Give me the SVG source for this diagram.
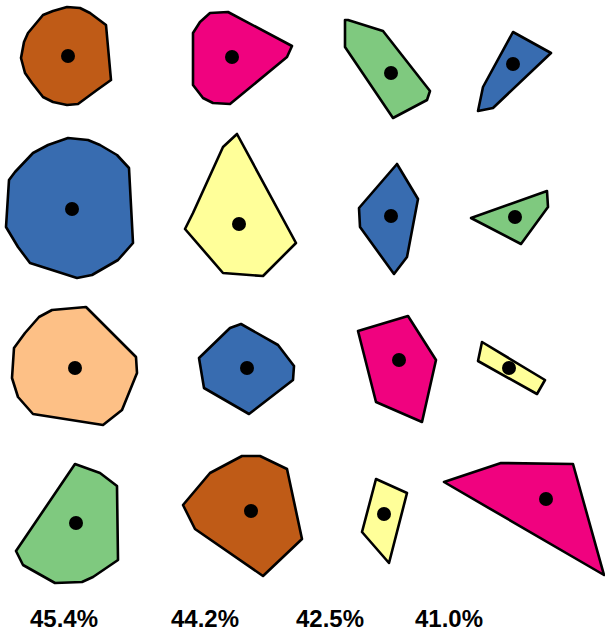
<svg xmlns="http://www.w3.org/2000/svg" width="605" height="633" viewBox="0 0 605 633">
<style>
.p{stroke:#000;stroke-width:2.6;stroke-linejoin:round}
.d{fill:#000}
.br{fill:#bf5b17}.pk{fill:#f0027f}.gr{fill:#7fc97f}.bl{fill:#386cb0}.ye{fill:#ffff99}.or{fill:#fdc086}
.t{font-family:"Liberation Sans",Arial,sans-serif;font-weight:bold;font-size:23px;text-anchor:middle;fill:#000}
</style>
<rect width="605" height="633" fill="#fff"/>
<g id="r1c1"><polygon class="p br" points="67,7 80,8 90,13 106,25 111,80 97,90 78,104 67,105 53,102 43,97 32,83 25,73 21,58 24,42 28,33 43,15 53,11"/><circle class="d" cx="68" cy="56" r="7"/></g>
<g id="r1c2"><polygon class="p pk" points="210,13 228,12 292,46 287,57 230,104 213,103 203,98 193,85 193,33 200,22"/><circle class="d" cx="232" cy="57" r="7"/></g>
<g id="r1c3"><polygon class="p gr" points="345,20 348,20 383,31 430,91 427,100 393,118 345,47"/><circle class="d" cx="391" cy="73" r="7"/></g>
<g id="r1c4"><polygon class="p bl" points="513,32 551,53 493,108 478,111 483,87"/><circle class="d" cx="513" cy="64" r="7"/></g>
<g id="r2c1"><polygon class="p bl" points="68,138 88,140 100,145 117,155 129,168 133,243 118,260 92,275 77,278 52,270 30,263 18,247 6,227 9,180 15,172 33,153 48,145"/><circle class="d" cx="72" cy="209" r="7"/></g>
<g id="r2c2"><polygon class="p ye" points="237,134 296,243 263,276 223,273 185,229 193,213 223,147"/><circle class="d" cx="239" cy="224" r="7"/></g>
<g id="r2c3"><polygon class="p bl" points="397,164 418,199 407,257 394,274 360,227 359,208"/><circle class="d" cx="391" cy="216" r="7"/></g>
<g id="r2c4"><polygon class="p gr" points="547,191 548,207 521,244 471,218"/><circle class="d" cx="515" cy="217" r="7"/></g>
<g id="r3c1"><polygon class="p or" points="52,310 86,307 136,357 137,373 122,410 103,425 33,414 18,397 12,378 14,348 25,333 39,317"/><circle class="d" cx="75" cy="368" r="7"/></g>
<g id="r3c2"><polygon class="p bl" points="230,328 241,324 278,345 294,366 293,380 249,414 204,388 199,358"/><circle class="d" cx="247" cy="368" r="7"/></g>
<g id="r3c3"><polygon class="p pk" points="408,316 436,360 422,422 376,402 358,331"/><circle class="d" cx="399" cy="360" r="7"/></g>
<g id="r3c4"><polygon class="p ye" points="482,342 545,380 537,394 478,361"/><circle class="d" cx="509" cy="368" r="7"/></g>
<g id="r4c1"><polygon class="p gr" points="75,464 100,473 117,486 118,560 93,577 82,582 55,583 23,565 16,551"/><circle class="d" cx="76" cy="523" r="7"/></g>
<g id="r4c2"><polygon class="p br" points="242,456 260,456 287,469 302,539 263,576 195,529 183,505 210,473"/><circle class="d" cx="251" cy="511" r="7"/></g>
<g id="r4c3"><polygon class="p ye" points="376,479 407,493 389,563 362,532"/><circle class="d" cx="384" cy="514" r="7"/></g>
<g id="r4c4"><polygon class="p pk" points="444,482 501,463 573,464 604,575"/><circle class="d" cx="546" cy="499" r="7"/></g>
<g id="labels">
<text class="t" x="64" y="627" textLength="68" lengthAdjust="spacingAndGlyphs">45.4%</text>
<text class="t" x="205" y="627" textLength="68" lengthAdjust="spacingAndGlyphs">44.2%</text>
<text class="t" x="330" y="627" textLength="68" lengthAdjust="spacingAndGlyphs">42.5%</text>
<text class="t" x="449" y="627" textLength="68" lengthAdjust="spacingAndGlyphs">41.0%</text>
</g>
</svg>
